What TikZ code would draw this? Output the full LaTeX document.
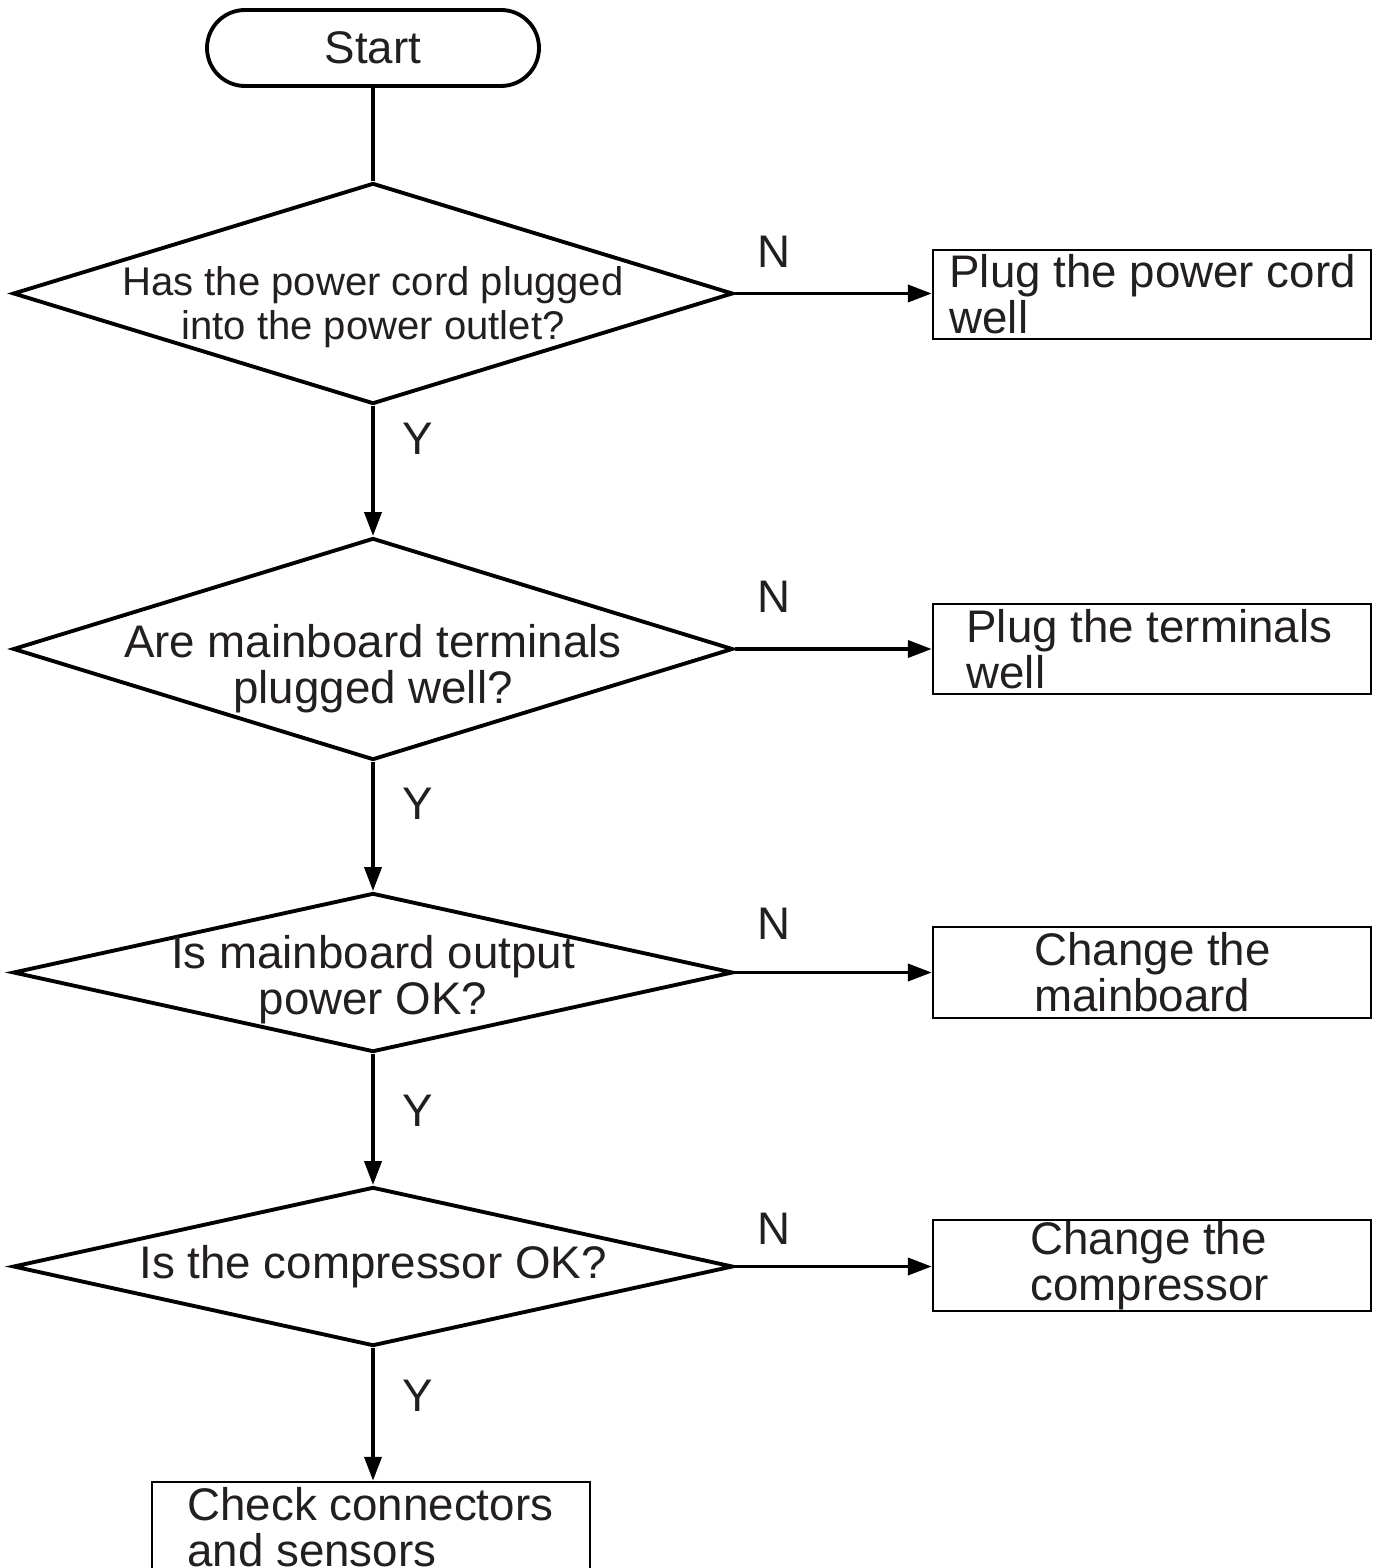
\documentclass[tikz,border=0pt]{standalone}
\usepackage{fontspec}
\setmainfont{Liberation Sans}
\usepackage{tikz}
\usetikzlibrary{arrows.meta,shapes.geometric,positioning}
\definecolor{inkgray}{RGB}{35,31,32}

\begin{document}
\begin{tikzpicture}
    [
    startbox/.style = {draw, rectangle, rounded corners=0.38cm, minimum width=3.32cm, minimum height=0.76cm, line width=1.1pt, inner sep=0pt, font=\fontsize{13}{13.1}\selectfont, text=inkgray},
    decision/.style = {draw, diamond, minimum width=7.2cm, line width=1.1pt, inner sep=0pt},
    qtext/.style = {inner sep=0pt, align=center, font=\fontsize{13}{13.1}\selectfont, text=inkgray},
    box/.style = {draw, rectangle, minimum width=4.38cm, line width=0.7pt, inner sep=0pt},
    btext/.style = {inner sep=0pt, align=left, font=\fontsize{13}{13.1}\selectfont, text=inkgray},
    yn/.style = {inner sep=0pt, font=\fontsize{13}{13}\selectfont, text=inkgray},
    arrow/.style = {-{Triangle[length=0.24cm, width=0.17cm]}, line width=1.1pt}
    ]

\useasboundingbox (0,0) rectangle (13.8,-15.68);

% Nodes
    \node[startbox] (start) at (3.73,-0.48) {Start};
    \node[decision, minimum height=2.21cm] (q1) at (3.73,-2.935) {};
    \node[decision, minimum height=2.22cm] (q2) at (3.73,-6.49) {};
    \node[decision, minimum height=1.59cm] (q3) at (3.73,-9.725) {};
    \node[decision, minimum height=1.59cm] (q4) at (3.73,-12.665) {};
    \node[box, minimum height=0.89cm] (fix1) at (11.52,-2.945) {};
    \node[box, minimum height=0.90cm] (fix2) at (11.52,-6.49) {};
    \node[box, minimum height=0.91cm] (fix3) at (11.52,-9.725) {};
    \node[box, minimum height=0.91cm] (fix4) at (11.52,-12.655) {};
    \node[box, minimum height=0.90cm] (check) at (3.71,-15.27) {};

% Texts
    \node[qtext, font=\fontsize{11.4}{12.5}\selectfont, yshift=-0.14cm] at (q1) {Has the power cord plugged\\into the power outlet?};
    \node[qtext, yshift=-0.20cm] at (q2) {Are mainboard terminals\\plugged well?};
    \node[qtext, yshift=-0.07cm] at (q3) {Is mainboard output\\power OK?};
    \node[qtext] at (q4) {Is the compressor OK?};
    \node[btext, right=0.17cm of fix1.west] {Plug the power cord\\well};
    \node[btext, right=0.34cm of fix2.west] {Plug the terminals\\well};
    \node[btext, right=1.02cm of fix3.west] {Change the\\mainboard};
    \node[btext, right=0.98cm of fix4.west] {Change the\\compressor};
    \node[btext, right=0.36cm of check.west] {Check connectors\\and sensors};

% Arrows
    \draw[line width=1.1pt] (start) -- (q1);
    \draw[arrow] (q1) -- (q2);
    \draw[arrow] (q2) -- (q3);
    \draw[arrow] (q3) -- (q4);
    \draw[arrow] (q4) -- (q4 |- check.north);
    \draw[arrow] (q1.east) -- (fix1.west |- q1.east);
    \draw[arrow] (q2.east) -- (fix2.west |- q2.east);
    \draw[arrow] (q3.east) -- (fix3.west |- q3.east);
    \draw[arrow] (q4.east) -- (fix4.west |- q4.east);

% Labels
    \node[yn, xshift=0.39cm, yshift=0.42cm] at (q1.east) {N};
    \node[yn, xshift=0.39cm, yshift=0.52cm] at (q2.east) {N};
    \node[yn, xshift=0.39cm, yshift=0.49cm] at (q3.east) {N};
    \node[yn, xshift=0.39cm, yshift=0.38cm] at (q4.east) {N};
    \node[yn, xshift=0.45cm, yshift=-0.33cm] at (q1.south) {Y};
    \node[yn, xshift=0.45cm, yshift=-0.42cm] at (q2.south) {Y};
    \node[yn, xshift=0.45cm, yshift=-0.57cm] at (q3.south) {Y};
    \node[yn, xshift=0.45cm, yshift=-0.48cm] at (q4.south) {Y};

\end{tikzpicture}
\end{document}
